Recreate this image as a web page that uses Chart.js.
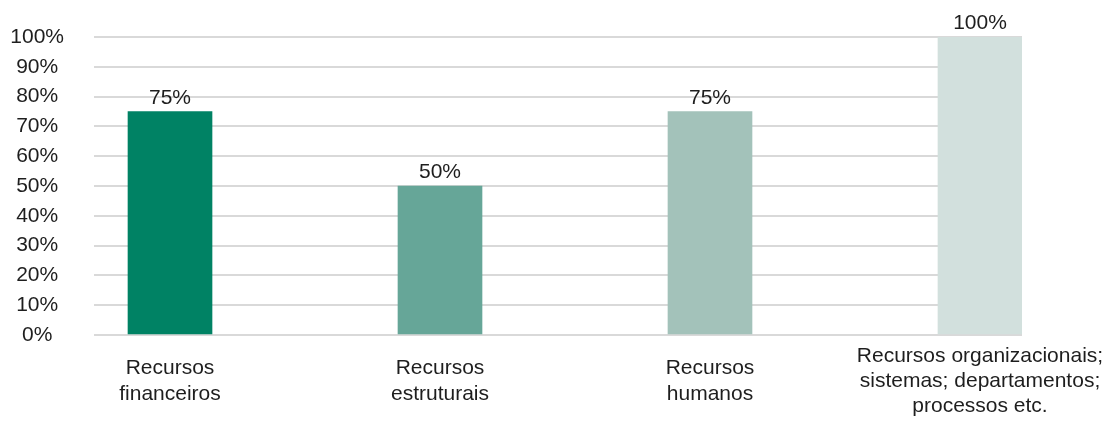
<!DOCTYPE html>
<html>
<head>
<meta charset="utf-8">
<script src="https://cdn.jsdelivr.net/npm/chart.js@4"></script>
<style>
  html, body { margin: 0; padding: 0; background: #fff; }
  #wrap { width: 1115px; height: 426px; }
</style>
</head>
<body>
<div id="wrap"><canvas id="myChart"></canvas></div>
<script>
"use strict";

// Data
const categories = [
    ["Recursos", "financeiros"],
    ["Recursos", "estruturais"],
    ["Recursos", "humanos"],
    ["Recursos organizacionais;", "sistemas; departamentos;", "processos etc."]
];
const values = [75, 50, 75, 100];
const barColors = ["#008264", "#66a698", "#a3c2ba", "#d2e0dd"];
const yTicks = [0, 10, 20, 30, 40, 50, 60, 70, 80, 90, 100];

const fontFamily = "'Liberation Sans', Arial, Helvetica, sans-serif";
const textColor = "#1e1e1e";

// Value labels on top of the bars
const barLabels = {
    id: "barLabels",
    afterDatasetsDraw(chart) {
        const ctx = chart.ctx;
        const meta = chart.getDatasetMeta(0);
        ctx.save();
        ctx.font = "21px " + fontFamily;
        ctx.fillStyle = textColor;
        ctx.textAlign = "center";
        ctx.textBaseline = "alphabetic";
        meta.data.forEach((bar, i) => {
            ctx.fillText(values[i] + "%", bar.x, bar.y - 8);
        });
        ctx.restore();
    }
};

const ctx = document.getElementById("myChart").getContext("2d");

let config = {
    type: "bar",
    data: {
        datasets: [{
            data: values.map((v, i) => ({ x: i, y: v })),
            backgroundColor: barColors,
            borderWidth: 0,
            barThickness: 84
        }]
    },
    options: {
        responsive: true,
        maintainAspectRatio: false,
        animation: false,
        layout: {
            padding: { top: 37, right: 93, bottom: 0, left: 10 }
        },
        plugins: {
            legend: { display: false },
            tooltip: { enabled: false }
        },
        scales: {
            x: {
                type: "linear",
                offset: false,
                min: -0.2815,
                max: 3.1556,
                afterBuildTicks: (scale) => {
                    scale.ticks = categories.map((c, i) => ({ value: i }));
                },
                afterFit: (scale) => {
                    scale.height = 91;
                    scale.paddingLeft = 0;
                    scale.paddingRight = 0;
                },
                grid: { display: false },
                border: { display: false },
                ticks: {
                    autoSkip: false,
                    maxRotation: 0,
                    crossAlign: "center",
                    padding: 13,
                    color: textColor,
                    font: { family: fontFamily, size: 21, lineHeight: 1.2 },
                    callback: (value) => categories[value] || ""
                }
            },
            y: {
                min: 0,
                max: 100,
                afterBuildTicks: (scale) => {
                    scale.ticks = yTicks.map(v => ({ value: v }));
                },
                afterFit: (scale) => {
                    scale.width = 84;
                    scale.paddingTop = 0;
                    scale.paddingBottom = 0;
                },
                grid: {
                    color: "#d9d9d9",
                    lineWidth: 2,
                    drawTicks: false
                },
                border: { display: false },
                ticks: {
                    autoSkip: false,
                    crossAlign: "center",
                    padding: 30,
                    color: textColor,
                    font: { family: fontFamily, size: 21 },
                    callback: (value) => value + "%"
                }
            }
        }
    },
    plugins: [barLabels]
};

let myChart = new Chart(ctx, config);
</script>
</body>
</html>
